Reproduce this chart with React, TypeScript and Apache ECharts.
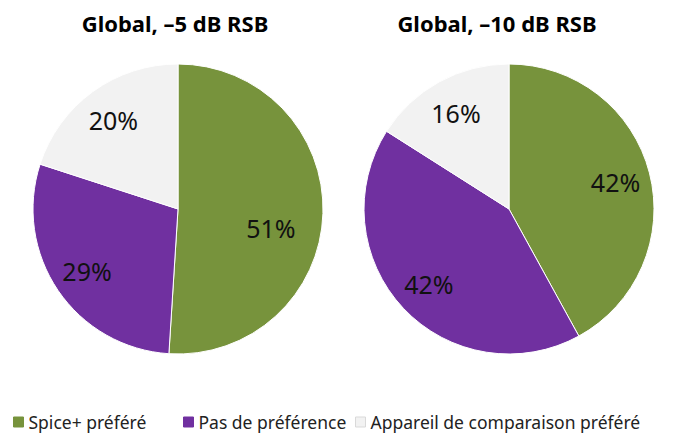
import React, { useEffect, useRef } from "react";
import * as echarts from "echarts";

// Category names (legend order)
const categories = ["Spice+ préféré", "Pas de préférence", "Appareil de comparaison préféré"];
const colors = ["#77933C", "#7030A0", "#F2F2F2"];

// Share of answers, in percent
const valuesMinus5 = [51, 29, 20];
const valuesMinus10 = [42, 42, 16];

const titles = ["Global, –5 dB RSB", "Global, –10 dB RSB"];

const PIE_R = 145;
const LABEL_R = 107;
const LEGEND_LEFT = [13, 183, 355];

function pieData(values: number[], withColor: boolean, shiftFirst = false) {
  return values.map((v, i) => ({
    name: categories[i],
    value: v,
    itemStyle: withColor ? { color: colors[i] } : { color: "rgba(0,0,0,0)", borderWidth: 0 },
    // the large slice's label sits a little lower and further in than its mid-angle
    ...(shiftFirst && i === 0
      ? { label: { formatter: "\n{c}%{s|}", lineHeight: 32, rich: { s: { width: 34 } } } }
      : {}),
  }));
}

function piePair(values: number[], center: [number, number], shiftFirst = false) {
  return [
    {
      type: "pie",
      center,
      radius: [0, PIE_R],
      startAngle: 90,
      clockwise: true,
      silent: true,
      label: { show: false },
      labelLine: { show: false },
      itemStyle: { borderColor: "#ffffff", borderWidth: 1 },
      emphasis: { disabled: true },
      data: pieData(values, true),
    },
    {
      // transparent twin that carries the percentage labels further out
      type: "pie",
      center,
      radius: [0, LABEL_R * 2],
      startAngle: 90,
      clockwise: true,
      silent: true,
      emphasis: { disabled: true },
      labelLine: { show: false },
      label: {
        show: true,
        position: "inside",
        formatter: "{c}%",
        color: "#111111",
        fontSize: 25,
        fontFamily: "Noto Sans",
        fontWeight: "normal",
      },
      data: pieData(values, false, shiftFirst),
    },
  ];
}

export default function App() {
  const ref = useRef<HTMLDivElement>(null);

  useEffect(() => {
    if (!ref.current) return;
    const chart = echarts.init(ref.current, undefined, { renderer: "svg" });
    const titleStyle = {
      align: "center",
      verticalAlign: "middle",
      fontSize: 22,
      fontWeight: "bold",
      fontFamily: "Noto Sans",
      fill: "#000000",
    };
    chart.setOption({
      animation: false,
      backgroundColor: "#ffffff",
      graphic: [
        { type: "text", x: 175, y: 23, style: { ...titleStyle, text: titles[0] } },
        { type: "text", x: 497, y: 23, style: { ...titleStyle, text: titles[1] } },
      ],
      legend: categories.map((name, i) => ({
        left: LEGEND_LEFT[i],
        top: 413,
        icon: "rect",
        itemWidth: 10,
        itemHeight: 10,
        padding: 0,
        selectedMode: false,
        textStyle: { fontSize: 17.5, fontFamily: "Noto Sans", color: "#222222" },
        data: [
          {
            name,
            itemStyle: { color: colors[i], borderColor: i === 2 ? "#d9d9d9" : colors[i], borderWidth: 1 },
          },
        ],
      })),
      series: [
        ...piePair(valuesMinus5, [178, 209], true),
        ...piePair(valuesMinus10, [509, 209]),
      ],
    });
    return () => chart.dispose();
  }, []);

  return (
    <div
      ref={ref}
      style={{ position: "fixed", left: 0, top: 0, width: 673, height: 433 }}
    />
  );
}
